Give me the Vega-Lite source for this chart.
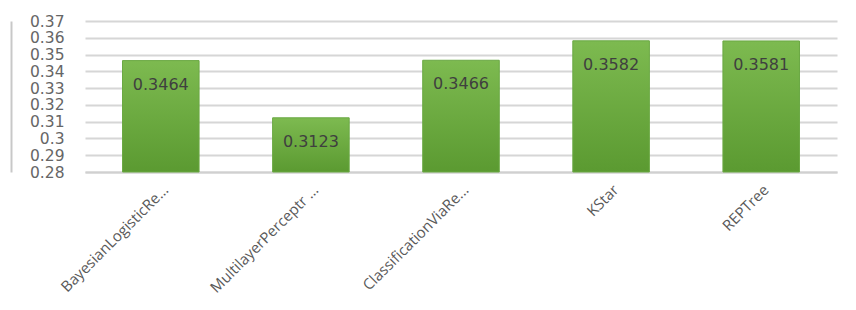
{
  "$schema": "https://vega.github.io/schema/vega-lite/v6.json",
  "width": 752,
  "height": 151,
  "padding": {"left": 11, "top": 14, "right": 18, "bottom": 0},
  "background": "white",
  "config": {"view": {"stroke": null}},
  "data": {"values": [
    {"model": "BayesianLogisticRe...", "value": 0.3464},
    {"model": "MultilayerPerceptr ...", "value": 0.3123},
    {"model": "ClassificationViaRe...", "value": 0.3466},
    {"model": "KStar", "value": 0.3582},
    {"model": "REPTree", "value": 0.3581}
  ]},
  "encoding": {
    "x": {"field": "model", "type": "nominal", "sort": null,
      "scale": {"paddingInner": 0.49, "paddingOuter": 0.25},
      "axis": {"title": null, "labelAngle": -45, "labelFont": "Open Sans", "labelFontSize": 15,
        "labelColor": "#595959", "ticks": false, "domain": true, "domainColor": "#d0d0d0", "domainWidth": 2,
        "labelPadding": 10, "labelDx": 10, "labelLimit": 300}}
  },
  "layer": [
    {
      "encoding": {
        "y": {"field": "value", "type": "quantitative",
          "scale": {"domain": [0.28, 0.37], "zero": false, "nice": false},
          "axis": {"title": null, "values": [0.28, 0.29, 0.3, 0.31, 0.32, 0.33, 0.34, 0.35, 0.36, 0.37],
            "format": ".2~f", "labelFont": "DejaVu Sans", "labelFontSize": 15.5, "labelColor": "#666666",
            "ticks": false, "domain": false, "labelPadding": 21,
            "gridColor": "#d6d6d6", "gridWidth": 2}}
      },
      "layer": [
        {"mark": {"type": "bar", "stroke": "#6aa843", "strokeWidth": 1,
          "color": {"gradient": "linear", "x1": 0, "y1": 0, "x2": 0, "y2": 1,
            "stops": [{"offset": 0, "color": "#7dba50"}, {"offset": 1, "color": "#5b9a31"}]}},
         "encoding": {"y2": {"datum": 0.28}}},
        {"mark": {"type": "text", "dy": 24, "font": "DejaVu Sans", "fontSize": 16, "color": "#3f3f3f"},
         "encoding": {"text": {"field": "value", "type": "quantitative", "format": ".4f"}}}
      ]
    },
    {
      "mark": {"type": "rule", "opacity": 0},
      "encoding": {
        "y": {"field": "value", "type": "quantitative",
          "scale": {"domain": [0.28, 0.37], "zero": false, "nice": false},
          "axis": {"orient": "left", "title": null, "labels": false, "ticks": false, "grid": false,
            "domain": true, "domainColor": "#c8c8c8", "domainWidth": 2, "offset": 74}}
      }
    }
  ],
  "resolve": {"scale": {"y": "independent"}}
}
